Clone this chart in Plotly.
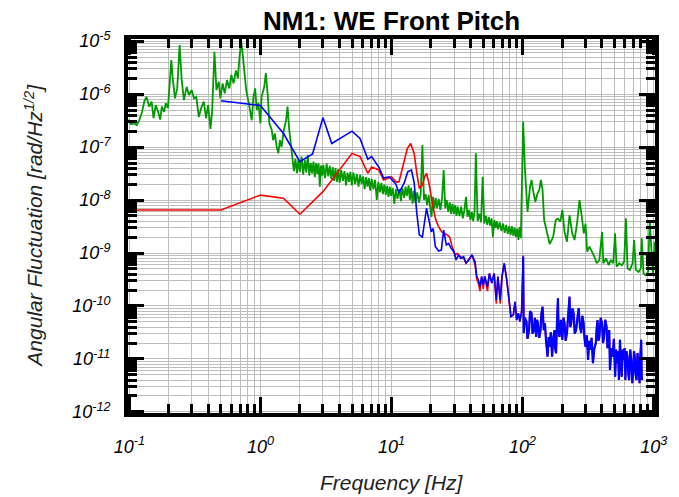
import plotly.graph_objects as go

# ---------------- data ----------------
# Green: full spectrum (Hz, rad/sqrt(Hz))
green_freq = [
    0.098, 0.103, 0.109, 0.114, 0.119, 0.125, 0.130, 0.135, 0.142, 0.148,
    0.153, 0.159, 0.166, 0.172, 0.177, 0.184, 0.190, 0.197, 0.203, 0.209,
    0.215, 0.223, 0.232, 0.242, 0.251, 0.261, 0.274, 0.285, 0.299, 0.311,
    0.324, 0.339, 0.353, 0.370, 0.385, 0.399, 0.416, 0.428, 0.446, 0.462,
    0.481, 0.495, 0.515, 0.534, 0.556, 0.579, 0.600, 0.624, 0.650, 0.673,
    0.693, 0.714, 0.734, 0.757, 0.779, 0.811, 0.840, 0.859, 0.885, 0.912,
    0.938, 0.966, 1.00, 1.02, 1.07, 1.10, 1.14, 1.17, 1.22, 1.25,
    1.29, 1.33, 1.37, 1.41, 1.45, 1.51, 1.57, 1.61, 1.66, 1.71,
    1.76, 1.80, 1.85, 1.90, 1.95, 2.00, 2.06, 2.12, 2.18, 2.24,
    2.30, 2.36, 2.42, 2.48, 2.54, 2.60, 2.66, 2.72, 2.78, 2.84,
    2.90, 2.96, 3.02, 3.11, 3.20, 3.29, 3.38, 3.47, 3.56, 3.65,
    3.74, 3.83, 3.92, 4.02, 4.14, 4.26, 4.38, 4.50, 4.62, 4.74,
    4.86, 4.98, 5.12, 5.28, 5.44, 5.60, 5.76, 5.92, 6.08, 6.24,
    6.40, 6.56, 6.72, 6.88, 7.06, 7.28, 7.50, 7.72, 7.94, 8.16,
    8.38, 8.60, 8.82, 9.04, 9.26, 9.48, 9.70, 9.92, 10.2, 10.5,
    10.8, 11.1, 11.5, 11.8, 12.1, 12.5, 12.8, 13.1, 13.5, 13.8,
    14.1, 14.5, 14.8, 15.2, 15.7, 16.2, 16.7, 17.2, 17.7, 18.2,
    18.7, 19.2, 19.7, 20.2, 20.7, 21.2, 21.7, 22.2, 22.9, 23.6,
    24.3, 25.0, 25.7, 26.4, 27.1, 27.8, 28.5, 29.2, 29.9, 30.6,
    31.3, 32, 33, 34, 35, 36, 37, 38, 39, 40,
    41, 42, 43, 44, 45.4, 46.8, 48.2, 49.6, 51.0, 52.4,
    53.8, 55.2, 56.6, 58.0, 59.4, 60.8, 62.2, 63.6, 65, 67,
    69, 71, 73, 75, 77, 79, 81, 83, 85, 87,
    89, 91, 93, 95, 97, 98.3, 101, 104, 109, 114,
    117, 120, 125, 130, 134, 138, 142, 146, 152, 161,
    171, 179, 186, 194, 201, 209, 218, 228, 239, 249,
    260, 272, 283, 293, 302, 311, 324, 339, 353, 368,
    385, 404, 413, 433, 454, 472, 492, 507, 522, 546,
    572, 596, 614, 632, 658, 690, 709, 731, 766, 798,
    811, 836, 869, 906, 933, 961, 988, 1018,
]
green_amp = [
    3.3e-7, 2.7e-7, 2.8e-7, 2.6e-7, 3.2e-7, 4.6e-7, 7.2e-7, 8.9e-7, 5.8e-7, 7.2e-7,
    3.5e-7, 6.2e-7, 4.6e-7, 3.3e-7, 5.8e-7, 4.6e-7, 6.7e-7, 5.4e-7, 1.48e-6, 4.4e-6,
    1.84e-6, 8.3e-7, 1.28e-6, 8.4e-6, 1.84e-6, 7.7e-7, 1.37e-6, 9.6e-7, 1.19e-6, 8.3e-7,
    8.9e-7, 3.7e-7, 5.4e-7, 7.2e-7, 3.5e-7, 6.2e-7, 2.2e-7, 4.6e-7, 6.3e-6, 1.19e-6,
    1.71e-6, 8.3e-7, 1.59e-6, 1.03e-6, 1.84e-6, 1.28e-6, 2.3e-6, 1.59e-6, 2.8e-6, 1.98e-6,
    5.1e-6, 9.7e-6, 5.4e-6, 2.8e-6, 1.19e-6, 7.2e-7, 4.0e-7, 3.2e-7, 8.9e-7, 1.28e-6,
    5.0e-7, 6.8e-7, 2.8e-7, 8.9e-7, 1.37e-6, 2.5e-6, 8.9e-7, 2.8e-7, 2.1e-7, 1.35e-7,
    1.81e-7, 1.01e-7, 7.6e-8, 1.35e-7, 1.01e-7, 2.1e-7, 3.2e-7, 5.8e-7, 2.1e-7, 1.17e-7,
    6.6e-8, 3.5e-8, 6.0e-8, 3.2e-8, 5.8e-8, 3.4e-8, 6.6e-8, 3.0e-8, 5.7e-8, 3.3e-8,
    7.1e-8, 2.9e-8, 5.0e-8, 3.2e-8, 5.3e-8, 2.7e-8, 5.0e-8, 3.1e-8, 4.9e-8, 1.78e-8,
    4.5e-8, 2.9e-8, 4.6e-8, 2.6e-8, 4.9e-8, 2.8e-8, 4.4e-8, 2.5e-8, 4.2e-8, 2.3e-8,
    4.0e-8, 2.2e-8, 3.8e-8, 2.1e-8, 3.7e-8, 2.3e-8, 3.5e-8, 1.9e-8, 3.3e-8, 2.2e-8,
    3.4e-8, 1.9e-8, 3.3e-8, 2.0e-8, 3.1e-8, 1.8e-8, 3.0e-8, 2.0e-8, 2.8e-8, 1.6e-8,
    2.7e-8, 1.8e-8, 2.6e-8, 1.5e-8, 2.5e-8, 1.6e-8, 2.4e-8, 1.0e-8, 2.2e-8, 1.4e-8,
    2.1e-8, 1.3e-8, 1.95e-8, 1.25e-8, 1.85e-8, 1.15e-8, 1.8e-8, 1.2e-8, 1.7e-8, 8.5e-9,
    1.6e-8, 1.05e-8, 1.6e-8, 9.5e-9, 1.7e-8, 1.1e-8, 1.8e-8, 1.2e-8, 1.9e-8, 1.0e-8,
    1.7e-8, 8.5e-9, 1.5e-8, 9.0e-9, 1.4e-8, 9.0e-9, 1.3e-8, 1.09e-7, 1.0e-8, 1.3e-8,
    8.0e-9, 1.25e-8, 7.5e-9, 4.8e-9, 1.15e-8, 7.0e-9, 1.1e-8, 7.0e-9, 1.05e-8, 6.5e-9,
    1.1e-8, 3.7e-8, 7.0e-9, 1.0e-8, 6.0e-9, 9.0e-9, 5.5e-9, 8.5e-9, 5.5e-9, 8.0e-9,
    5.0e-9, 7.5e-9, 5.0e-9, 7.5e-9, 4.5e-9, 6.5e-9, 1.15e-8, 4.8e-9, 6.5e-9, 4.2e-9,
    6.0e-9, 4.0e-9, 6.0e-9, 7.6e-8, 4.0e-9, 5.5e-9, 3.8e-9, 2.75e-8, 3.6e-9, 5.0e-9,
    3.4e-9, 4.8e-9, 3.3e-9, 4.5e-9, 2.0e-9, 4.2e-9, 3.0e-9, 4.0e-9, 2.8e-9, 3.8e-9,
    2.6e-9, 3.6e-9, 2.4e-9, 3.4e-9, 2.3e-9, 3.2e-9, 2.2e-9, 3.2e-9, 2.1e-9, 3.0e-9,
    2.0e-9, 2.9e-9, 1.76e-9, 3.1e-9, 1.9e-9, 1.15e-8, 3.0e-7, 4.2e-8, 6.0e-9, 1.78e-8,
    2.4e-8, 1.55e-8, 9.3e-9, 1.34e-8, 1.55e-8, 2.4e-8, 1.55e-8, 4.2e-9, 2.7e-9, 1.48e-9,
    2.0e-9, 4.2e-9, 4.5e-9, 3.9e-9, 6.5e-9, 2.5e-9, 1.63e-9, 5.2e-9, 2.35e-9, 1.76e-9,
    3.6e-9, 1.0e-8, 4.8e-9, 2.35e-9, 3.6e-9, 1.06e-9, 1.32e-9, 1.06e-9, 8.5e-10, 6.4e-10,
    7.4e-10, 2.5e-9, 6.4e-10, 7.9e-10, 5.9e-10, 7.4e-10, 6.4e-10, 2.35e-9, 5.5e-10, 6.4e-10,
    5.9e-10, 6.9e-10, 4.5e-9, 5.1e-10, 4.8e-10, 6.4e-10, 1.76e-9, 4.8e-10, 4.4e-10, 5.1e-10,
    1.89e-9, 4.1e-10, 3.8e-10, 4.4e-10, 4.2e-9, 1.14e-9, 3.8e-10, 1.63e-9,
]

# Blue: 0.5 - 34 Hz
blue_freq = [
    0.50, 1.0, 1.5, 2.0, 2.5, 3.0, 3.5, 5.0, 5.75, 6.6,
    7.05, 8.0, 8.7, 9.6, 10.8, 11.4, 12.5, 13.3, 14.2, 14.9,
    15.6, 16.3, 17.2, 17.8, 18.5, 19.3, 20.1, 20.8, 21.6, 22.9,
    24.0, 25.0, 26.2, 27.3, 28.5, 29.9, 31.1, 32.5, 33.8,
]
blue_amp = [
    7.5e-7, 6.1e-7, 1.8e-7, 5.3e-8, 7.4e-8, 3.6e-7, 1.17e-7, 2.0e-7, 1.46e-7, 5.9e-8,
    6.6e-8, 4.2e-8, 2.6e-8, 2.75e-8, 2.0e-8, 1.36e-8, 2.1e-8, 3.4e-8, 3.7e-8, 2.1e-8,
    5.6e-9, 2.2e-9, 2.0e-9, 3.6e-9, 7.0e-9, 4.2e-9, 2.5e-9, 2.9e-9, 1.32e-9, 1.09e-9,
    1.14e-9, 2.7e-9, 1.42e-9, 1.52e-9, 1.23e-9, 1.06e-9, 7.4e-10, 9.2e-10, 7.9e-10,
]

# Red: 0.1 - 34 Hz
red_freq = [
    0.098, 0.5, 1.0, 1.5, 2.0, 3.0, 5.0, 5.75, 6.6, 7.05,
    8.0, 8.7, 10.0, 10.8, 11.4, 12.5, 13.2, 14.0, 14.9, 15.6,
    16.3, 17.2, 17.9, 18.5, 19.3, 20.4, 21.6, 22.9, 24.2, 25.3,
    26.6, 27.8, 29.0, 30.6, 31.8, 33.5,
]
red_amp = [
    6.5e-9, 6.5e-9, 1.24e-8, 1.08e-8, 5.4e-9, 1.44e-8, 7.6e-8, 6.6e-8, 3.2e-8, 4.2e-8,
    3.7e-8, 2.4e-8, 2.75e-8, 2.2e-8, 2.2e-8, 5.7e-8, 9.4e-8, 1.17e-7, 7.6e-8, 3.2e-8,
    1.66e-8, 1.92e-8, 2.75e-8, 3.2e-8, 2.1e-8, 9.3e-9, 4.5e-9, 3.1e-9, 2.5e-9, 2.35e-9,
    2.2e-9, 2.0e-9, 1.32e-9, 9.2e-10, 9.9e-10, 8.5e-10,
]

# 35 - 98 Hz, where blue and red nearly coincide
mid_freq = [
    35.5, 37.0, 38.8, 41.1, 43.4, 44.7, 46.0, 47.3, 48.7, 50.1,
    51.5, 53.9, 55.8, 58.2, 60.7, 63.0, 64.8, 67.5, 69.6, 72.4,
    75.7, 78.6, 81.5, 85.0, 87.6, 90.1, 92.8, 95.4, 98.3,
]
blue_mid_amp = [
    8.5e-10, 6.4e-10, 7.4e-10, 9.2e-10, 6.8e-10, 3.6e-10, 3.1e-10, 2.3e-10, 3.6e-10, 2.5e-10,
    3.6e-10, 2.3e-10, 4.1e-10, 2.7e-10, 4.1e-10, 1.3e-10, 3.6e-10, 1.3e-10, 3.6e-10, 6.4e-10,
    3.1e-10, 1.2e-10, 6.3e-11, 6.8e-11, 1.2e-10, 5.4e-11, 7.3e-11, 5.1e-11, 7.8e-11,
]
red_mid_amp = [
    8.0e-10, 6.4e-10, 7.4e-10, 9.2e-10, 6.0e-10, 3.2e-10, 2.7e-10, 1.9e-10, 3.6e-10, 2.1e-10,
    3.6e-10, 1.9e-10, 4.1e-10, 2.7e-10, 4.1e-10, 1.1e-10, 3.6e-10, 1.1e-10, 3.6e-10, 6.4e-10,
    3.1e-10, 1.2e-10, 6.3e-11, 6.8e-11, 1.2e-10, 5.4e-11, 7.3e-11, 5.1e-11, 7.8e-11,
]

# 100 Hz line
line_freq = [101]
blue_line_amp = [8.5e-10]
red_line_amp = [9.0e-10]

# above 100 Hz the two curves overlap
hf_freq = [
    102, 104, 107, 109, 112, 114, 117, 119, 122, 124,
    127, 129, 131, 134, 137, 139, 142, 145, 148, 151,
    155, 158, 161, 164, 168, 171, 175, 177, 180, 183,
    186, 188, 191, 196, 201, 205, 209, 213, 218, 223,
    228, 231, 235, 240, 245, 250, 256, 262, 268, 274,
    280, 286, 292, 297, 302, 309, 316, 322, 328, 336,
    344, 353, 362, 368, 373, 379, 385, 394, 404, 411,
    418, 427, 437, 444, 452, 458, 464, 475, 486, 497,
    508, 517, 527, 535, 543, 553, 561, 570, 580, 591,
    600, 608, 620, 632, 641, 650, 663, 677, 687, 697,
    707, 718, 729, 740, 753, 766, 780, 792, 803, 810,
    815,
]
hf_amp = [
    3.1e-11, 6.0e-11, 5.1e-11, 2.4e-11, 3.5e-11, 8.0e-11, 7.3e-11, 3.0e-11, 3.5e-11, 6.0e-11,
    2.6e-11, 5.5e-11, 4.7e-11, 2.5e-11, 3.5e-11, 7.0e-11, 9.7e-11, 3.5e-11, 4.7e-11, 2.2e-11,
    1.1e-11, 2.6e-11, 1.7e-11, 3.2e-11, 1.1e-11, 2.4e-11, 3.5e-11, 1.6e-11, 1.28e-11, 5.0e-11,
    1.4e-10, 4.0e-11, 2.6e-11, 5.5e-11, 2.3e-11, 6.0e-11, 4.7e-11, 2.2e-11, 3.1e-11, 7.0e-11,
    1.5e-10, 4.0e-11, 4.7e-11, 9.0e-11, 7.3e-11, 3.0e-11, 3.5e-11, 6.0e-11, 9.1e-11, 4.0e-11,
    3.1e-11, 6.5e-11, 4.7e-11, 2.4e-11, 1.7e-11, 2.8e-11, 9.6e-12, 2.2e-11, 1.48e-11, 2.5e-11,
    8.3e-12, 1.6e-11, 2.0e-11, 4.0e-11, 5.4e-11, 2.2e-11, 2.6e-11, 6.0e-11, 4.7e-11, 2.0e-11,
    2.6e-11, 5.5e-11, 4.1e-11, 1.6e-11, 2.0e-11, 3.5e-11, 6.2e-12, 1.6e-11, 1.1e-11, 2.4e-11,
    4.6e-12, 1.5e-11, 8.3e-12, 1.4e-11, 4.0e-12, 2.3e-11, 7.0e-12, 4.6e-12, 1.5e-11, 9.6e-12,
    1.6e-11, 4.0e-12, 1.4e-11, 1.1e-11, 5.0e-12, 4.0e-12, 1.5e-11, 8.3e-12, 3.5e-12, 5.4e-12,
    1.4e-11, 1.1e-11, 5.0e-12, 4.0e-12, 1.3e-11, 7.2e-12, 3.5e-12, 1.2e-11, 2.3e-11, 5.0e-12,
    4.0e-12,
]

# axis ticks
x_major = [0.1, 1, 10, 100, 1000]
x_labels = ["-1", "0", "1", "2", "3"]
y_major = [1e-12, 1e-11, 1e-10, 1e-9, 1e-8, 1e-7, 1e-6, 1e-5]
y_labels = ["-12", "-11", "-10", "-9", "-8", "-7", "-6", "-5"]
x_minor = [k * 10.0 ** e for e in range(-1, 3) for k in range(2, 10)]
y_minor = [k * 10.0 ** e for e in range(-12, -5) for k in range(2, 10)]

FONT = "Liberation Sans, Arial, sans-serif"
GRID = "#bdbdbd"
GREEN = "#009a00"
RED = "#ff0000"
BLUE = "#0000ff"

fig = go.Figure()
fig.add_trace(go.Scatter(x=green_freq, y=green_amp, mode="lines",
                         line=dict(color=GREEN, width=1.8)))
fig.add_trace(go.Scatter(x=red_freq + mid_freq + line_freq + hf_freq,
                         y=red_amp + red_mid_amp + red_line_amp + hf_amp,
                         mode="lines", line=dict(color=RED, width=1.6)))
# blue: narrow-band part, then the dense high-frequency floor
fig.add_trace(go.Scatter(x=blue_freq + mid_freq + line_freq,
                         y=blue_amp + blue_mid_amp + blue_line_amp,
                         mode="lines", line=dict(color=BLUE, width=1.6)))
fig.add_trace(go.Scatter(x=line_freq + hf_freq,
                         y=blue_line_amp + hf_amp,
                         mode="lines", line=dict(color=BLUE, width=2.2)))

axis_common = dict(
    type="log", ticks="inside", ticklen=16, tickwidth=3, tickcolor="black",
    showline=True, linewidth=4, linecolor="black", mirror="ticks",
    showgrid=True, gridcolor=GRID, gridwidth=1.3, zeroline=False,
    tickfont=dict(family=FONT, size=18, color="black"),
)

fig.update_xaxes(
    range=[-1.01, 3.01], tickmode="array", tickvals=x_major,
    ticktext=[f"<i>10<sup>{s}</sup></i>" for s in x_labels],
    ticklabelstandoff=14,
    minor=dict(tickmode="array", tickvals=x_minor, ticks="inside", ticklen=9,
               tickwidth=3, tickcolor="black", showgrid=True,
               gridcolor=GRID, gridwidth=1.3),
    **axis_common,
)
fig.update_yaxes(
    range=[-12.02, -4.96], tickmode="array", tickvals=y_major,
    ticktext=[f"<i>10<sup>{s}</sup></i>" for s in y_labels],
    ticklabelstandoff=10,
    minor=dict(tickmode="array", tickvals=y_minor, ticks="inside", ticklen=9,
               tickwidth=3, tickcolor="black", showgrid=True,
               gridcolor=GRID, gridwidth=1.3),
    **axis_common,
)

fig.update_layout(
    width=679, height=497,
    margin=dict(l=128, r=19, t=39, b=84),
    paper_bgcolor="white", plot_bgcolor="white",
    showlegend=False,
    font=dict(family=FONT, color="black"),
    annotations=[
        dict(text="<b>NM1: WE Front Pitch</b>", xref="paper", yref="paper",
             x=0.5, y=1.047, xanchor="center", yanchor="middle",
             showarrow=False, font=dict(family=FONT, size=26, color="black")),
        dict(text="<i>Frequency [Hz]</i>", xref="paper", yref="paper",
             x=0.5, y=-0.185, xanchor="center", yanchor="middle",
             showarrow=False, font=dict(family=FONT, size=21, color="#222222")),
        dict(text="<i>Angular Fluctuation [rad/Hz<sup>1/2</sup>]</i>",
             xref="paper", yref="paper", x=-0.179, y=0.5, textangle=-90,
             xanchor="center", yanchor="middle", showarrow=False,
             font=dict(family=FONT, size=21, color="#222222")),
    ],
)

fig.write_html("out.html")
